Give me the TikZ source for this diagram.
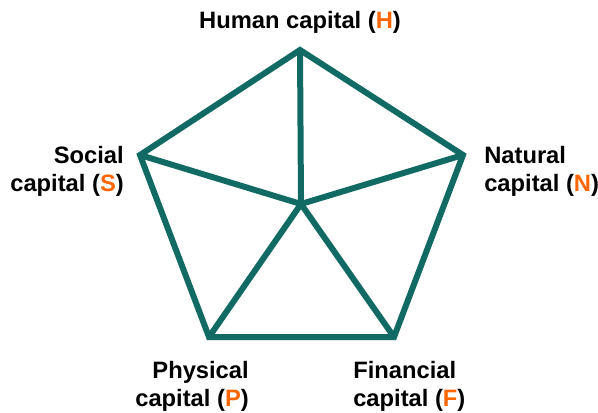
\documentclass[tikz,border=0pt]{standalone}
\usepackage{fontspec}
\setmainfont{Liberation Sans}
\definecolor{teal}{RGB}{18,106,100}
\definecolor{caporange}{RGB}{255,102,0}
\newcommand{\ltr}[1]{(\textcolor{caporange}{#1})}
\tikzset{
  edge/.style={line width=4.5pt, draw=teal, line join=miter},
  lbl/.style={font=\fontsize{17.8}{21}\selectfont\bfseries, inner sep=0pt}
}
\begin{document}
\begin{tikzpicture}[x=0.75pt,y=-0.75pt]
\useasboundingbox (0,0) rectangle (598,412);

% corners of the pentagon
\coordinate (h) at (300,50);
\coordinate (n) at (463,155);
\coordinate (f) at (394,337);
\coordinate (p) at (209,337);
\coordinate (s) at (140,155);
\coordinate (c) at (301,204);

\draw[edge] (h) -- (n) -- (f) -- (p) -- (s) -- cycle;
\foreach \v in {h,n,f,p,s} {
  \draw[edge] (c) -- (\v);
}

% labels
\node[lbl] (hl) at (300,22) {Human capital \ltr{H}};
\node[lbl, align=right, anchor=east] (sl) at (124,171) {Social\\capital \ltr{S}};
\node[lbl, align=left, anchor=west] (nl) at (484,171) {Natural\\capital \ltr{N}};
\node[lbl, align=right, anchor=east] (pl) at (249,386) {Physical\\capital \ltr{P}};
\node[lbl, align=left, anchor=west] (fl) at (353,386) {Financial\\capital \ltr{F}};
\end{tikzpicture}
\end{document}
